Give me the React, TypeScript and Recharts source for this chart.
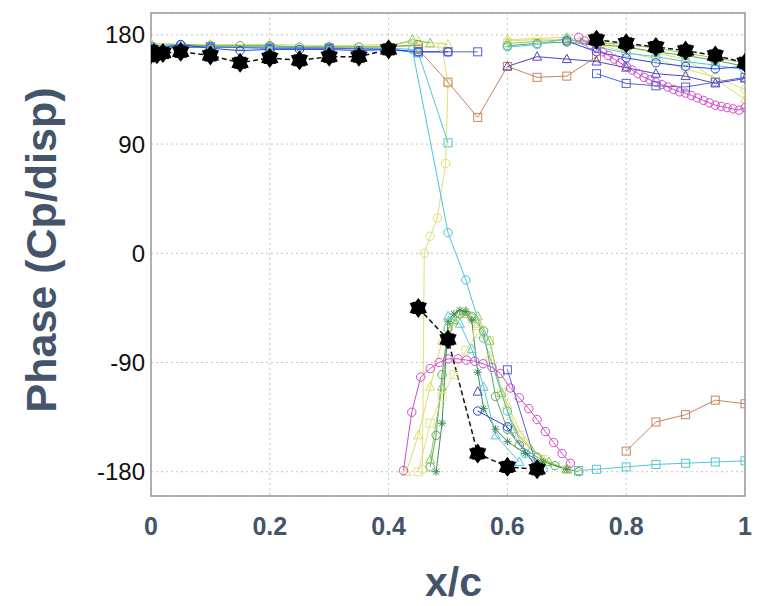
import React from 'react'
import { LineChart, Line, XAxis, YAxis, CartesianGrid, ReferenceArea } from 'recharts'

type Pt = [number, number | null]

const xTicks = [0, 0.2, 0.4, 0.6, 0.8, 1]
const yTicks = [-180, -90, 0, 90, 180]

// x/c, phase (deg); a null y breaks the line
const greenCircle: Pt[] = [
  [0, 171], [0.05, 172], [0.1, 171], [0.15, 171], [0.2, 171], [0.25, 170], [0.3, 170], [0.35, 170], [0.4, 170], [0.45, 172], [0.46, null],
  [0.47, -176], [0.48, -150], [0.49, -100], [0.5, -62], [0.52, -50], [0.54, -52], [0.56, -64], [0.58, -118], [0.6, -145], [0.62, -158], [0.65, -168], [0.68, -175], [0.72, -180], [0.73, null],
  [0.6, 171], [0.65, 173], [0.7, 174], [0.75, 172], [0.8, 170], [0.85, 166], [0.9, 163], [0.95, 159], [1, 154],
]
const lightGreenTri: Pt[] = [
  [0, 170], [0.1, 171], [0.2, 170], [0.3, 170], [0.4, 170], [0.44, 176], [0.47, 173], [0.48, null],
  [0.47, -170], [0.49, -110], [0.5, -70], [0.51, -55], [0.53, -48], [0.55, -52], [0.57, -72], [0.59, -115], [0.61, -145], [0.64, -162], [0.67, -172], [0.7, -178], [0.71, null],
  [0.6, 173], [0.7, 176], [0.75, 174], [0.8, 172], [0.85, 169], [0.9, 165], [0.95, 161], [1, 157],
]
const darkGreenStar: Pt[] = [
  [0.48, -180], [0.49, -140], [0.5, -56], [0.51, -50], [0.52, -47], [0.53, -48], [0.54, -55], [0.55, -98], [0.56, -128], [0.58, -145], [0.6, -155], [0.63, -165], [0.66, -172], [0.7, -178],
]
const yellowTri: Pt[] = [
  [0, 173], [0.1, 172], [0.2, 172], [0.3, 171], [0.4, 172], [0.45, 175], [0.5, 172], [0.52, null],
  [0.43, -180], [0.45, -150], [0.47, -110], [0.49, -72], [0.51, -56], [0.53, -50], [0.55, -58], [0.57, -85], [0.6, -125], [0.63, -155], [0.66, -170], [0.7, -178], [0.72, -180], [0.73, null],
  [0.6, 176], [0.7, 178], [0.8, 170], [0.9, 160], [1, 127],
]
const yellowSquare: Pt[] = [
  [0.45, -180], [0.47, -140], [0.49, -118], [0.51, -100], [0.53, -80], [0.55, -66], [0.57, -72], [0.59, -115], [0.62, -150], [0.66, -170], [0.7, -178],
]
const yellowCircle: Pt[] = [
  [0, 172], [0.1, 171], [0.2, 171], [0.3, 170], [0.4, 171], [0.45, 170], [0.49, 170], [0.5, 140], [0.496, 74], [0.482, 29], [0.47, 14], [0.46, 0], [0.457, -178], [0.5, null],
  [0.6, 175], [0.65, 176], [0.7, 176], [0.75, 172], [0.8, 166], [0.85, 160], [0.9, 152], [0.95, 145], [1, 135],
]
const cyanSquare: Pt[] = [
  [0, 170], [0.1, 170], [0.2, 169], [0.3, 169], [0.4, 168], [0.45, 165], [0.5, 91], [0.51, null],
  [0.72, -179], [0.75, -178], [0.8, -176], [0.85, -174], [0.9, -173], [0.95, -172], [1, -171],
]
const cyanCircle: Pt[] = [
  [0, 171], [0.05, 171], [0.1, 170], [0.2, 170], [0.3, 169], [0.4, 169], [0.44, 168], [0.5, 17], [0.53, -22], [0.56, -70], [0.6, -130], [0.63, -165], [0.66, -178], [0.67, null],
  [0.6, 170], [0.65, 172], [0.7, 177], [0.75, 170], [0.8, 165], [0.85, 162], [0.9, 158], [0.95, 155], [1, 151],
]
const cyanTri: Pt[] = [
  [0.5, -52], [0.52, -58], [0.54, -79], [0.56, -110], [0.58, -150], [0.62, -172],
]
const magenta: Pt[] = [
  [0.425, -179], [0.439, -131], [0.454, -102], [0.47, -95], [0.485, -90], [0.5, -87], [0.517, -87], [0.531, -88], [0.545, -89], [0.559, -91],
  [0.574, -94], [0.588, -99], [0.605, -111], [0.62, -119], [0.636, -128], [0.65, -137], [0.664, -147], [0.678, -156], [0.692, -165], [0.706, -173], [0.71, null],
  [0.72, 178], [0.73, 175], [0.74, 172], [0.75, 169], [0.76, 166], [0.77, 163], [0.78, 160], [0.79, 157], [0.8, 154], [0.81, 151], [0.82, 148],
  [0.83, 145], [0.84, 143], [0.85, 141], [0.86, 139], [0.87, 137], [0.88, 135], [0.89, 133], [0.9, 132], [0.91, 130], [0.92, 128], [0.93, 126],
  [0.94, 124], [0.95, 122], [0.96, 121], [0.97, 120], [0.98, 119], [0.99, 118], [1, 120],
]
const brown: Pt[] = [
  [0.45, 168], [0.5, 141], [0.55, 112], [0.6, 154], [0.65, 145], [0.7, 146], [0.75, 162], [0.76, null],
  [0.8, -163], [0.85, -139], [0.9, -133], [0.95, -121], [1, -124],
]
const blueCircle: Pt[] = [
  [0, 168], [0.05, 172], [0.1, 169], [0.15, 167], [0.2, 168], [0.25, 168], [0.3, 168], [0.35, 167], [0.4, 168], [0.45, 166], [0.5, 166], [0.52, null],
  [0.7, 175], [0.75, 166], [0.8, 161], [0.85, 157], [0.9, 154], [0.95, 152], [1, 154], [0.9, null],
  [0.55, -130], [0.6, -143], [0.65, -177],
]
const blueSquare: Pt[] = [
  [0, 169], [0.1, 170], [0.2, 169], [0.3, 169], [0.4, 168], [0.45, 166], [0.5, 166], [0.55, 166], [0.56, null],
  [0.75, 148], [0.8, 140], [0.85, 138], [0.9, 137], [0.95, 141], [1, 145], [0.9, null],
  [0.6, -96], [0.65, -176],
]
const purpleTri: Pt[] = [
  [0.6, 154], [0.65, 162], [0.7, 160], [0.75, 158], [0.8, 153], [0.85, 148], [0.9, 146], [0.95, 140], [1, 144], [0.9, null],
  [0.55, -114],
]
const black: Pt[] = [
  [0, 164], [0.005, 165], [0.01, 164], [0.02, 165], [0.05, 166], [0.1, 163], [0.15, 157], [0.2, 161], [0.25, 159], [0.3, 162], [0.35, 162], [0.4, 168], [0.42, null],
  [0.45, -45], [0.5, -71], [0.55, -165], [0.6, -176], [0.65, -178], [0.7, null],
  [0.75, 176], [0.8, 173], [0.85, 170], [0.9, 167], [0.95, 163], [1, 157],
]

const series = [
  { id: 'yS', pts: yellowSquare, color: '#e6e28a', shape: 'square' },
  { id: 'yT', pts: yellowTri, color: '#e0dc66', shape: 'tri' },
  { id: 'yC', pts: yellowCircle, color: '#e4dc74', shape: 'circle' },
  { id: 'gC', pts: greenCircle, color: '#5ea65c', shape: 'circle' },
  { id: 'lgT', pts: lightGreenTri, color: '#8ec866', shape: 'tri' },
  { id: 'dgS', pts: darkGreenStar, color: '#3f8e52', shape: 'star' },
  { id: 'cT', pts: cyanTri, color: '#56c8dc', shape: 'tri' },
  { id: 'cS', pts: cyanSquare, color: '#50c8d8', shape: 'square' },
  { id: 'cC', pts: cyanCircle, color: '#4cc2e2', shape: 'circle' },
  { id: 'br', pts: brown, color: '#c8845a', shape: 'square' },
  { id: 'mg', pts: magenta, color: '#d04cc8', shape: 'circle' },
  { id: 'pT', pts: purpleTri, color: '#5048b8', shape: 'tri' },
  { id: 'bS', pts: blueSquare, color: '#5262d4', shape: 'square' },
  { id: 'bC', pts: blueCircle, color: '#2a40e4', shape: 'circle' },
]

const toRows = (pts: Pt[]) => pts.map(([x, y]) => ({ x, y }))

function marker(shape: string, color: string) {
  return (p: any) => {
    const { cx, cy, index } = p
    if (p.value == null || !Number.isFinite(cx) || !Number.isFinite(cy)) return <g key={index} />
    const s = { fill: 'none', stroke: color, strokeWidth: 1 }
    if (shape === 'square') return <rect key={index} x={cx - 4} y={cy - 4} width={8} height={8} {...s} />
    if (shape === 'tri') return <polygon key={index} points={`${cx},${cy - 5} ${cx + 4.5},${cy + 3.5} ${cx - 4.5},${cy + 3.5}`} {...s} />
    if (shape === 'star')
      return (
        <path key={index} d={`M${cx - 4},${cy}H${cx + 4}M${cx},${cy - 4}V${cy + 4}M${cx - 3},${cy - 3}L${cx + 3},${cy + 3}M${cx - 3},${cy + 3}L${cx + 3},${cy - 3}`} {...s} />
      )
    if (shape === 'hex') {
      const pts: string[] = []
      for (let i = 0; i < 12; i++) {
        const r = i % 2 === 0 ? 10 : 6.5
        const a = (Math.PI / 6) * i - Math.PI / 2
        pts.push(`${cx + r * Math.cos(a)},${cy + r * Math.sin(a)}`)
      }
      return (
        <g key={index}>
          <polygon points={pts.join(' ')} fill="#000" />
          <rect x={cx - 6} y={cy - 6} width={12} height={12} fill="#000" />
        </g>
      )
    }
    return <circle key={index} cx={cx} cy={cy} r={4.2} {...s} />
  }
}

const font = '"Liberation Sans", Arial, sans-serif'
const slate = '#44546a'

const XTick = (p: any) => (
  <text x={p.x} y={535} textAnchor="middle" fontFamily={font} fontWeight={700} fontSize={25} fill={slate}>
    {p.payload.value === 0 || p.payload.value === 1 ? String(p.payload.value) : p.payload.value.toFixed(1)}
  </text>
)
const YTick = (p: any) => (
  <text x={145} y={p.y} dy="0.36em" textAnchor="end" fontFamily={font} fontSize={24} fill="#111">
    {p.payload.value}
  </text>
)

export default function App() {
  return (
    <div style={{ position: 'absolute', left: 0, top: 0, width: 768, height: 606, background: '#fff' }}>
      <LineChart width={768} height={606} margin={{ top: 13, right: 23, left: 91, bottom: 70 }}>
        <CartesianGrid stroke="#c4c4c4" strokeDasharray="2 3" />
        <XAxis type="number" dataKey="x" domain={[0, 1]} ticks={xTicks} allowDataOverflow
          axisLine={false} tickLine={false} height={40} tick={<XTick />} />
        <YAxis type="number" domain={[-200, 198]} ticks={yTicks} allowDataOverflow
          axisLine={false} tickLine={false} width={60} tick={<YTick />} />
        <ReferenceArea x1={0} x2={1} y1={-200} y2={198} fill="none" stroke="#9a9a9a" strokeWidth={1.5} />
        {series.map(s => (
          <Line key={s.id} data={toRows(s.pts)} dataKey="y" type="linear" stroke={s.color} strokeWidth={1}
            dot={marker(s.shape, s.color)} activeDot={false} isAnimationActive={false} />
        ))}
        <Line data={toRows(black)} dataKey="y" type="linear" stroke="#111" strokeWidth={1.5} strokeDasharray="5 3"
          dot={marker('hex', '#000')} activeDot={false} isAnimationActive={false} />
      </LineChart>
      <div style={{ position: 'absolute', left: 40.5 - 200, top: 250 - 25, width: 400, height: 50, lineHeight: '50px',
        transform: 'rotate(-90deg)', textAlign: 'center', fontFamily: font, fontWeight: 700, fontSize: 43, color: slate, whiteSpace: 'nowrap' }}>
        Phase (Cp/disp)
      </div>
      <div style={{ position: 'absolute', left: 353.5, top: 562, width: 200, lineHeight: '41px', textAlign: 'center',
        fontFamily: font, fontWeight: 700, fontSize: 41, color: slate }}>
        x/c
      </div>
    </div>
  )
}
